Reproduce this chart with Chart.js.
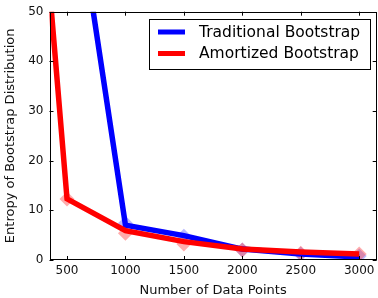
<!DOCTYPE html>
<html>
<head>
<meta charset="utf-8">
<script src="https://cdn.jsdelivr.net/npm/chart.js@4"></script>
<style>
  html, body { margin: 0; padding: 0; background: #fff; }
  #wrap { width: 378px; height: 298px; }
</style>
</head>
<body>
<div id="wrap"><canvas id="entropyCanvas" width="378" height="298"></canvas></div>
<script>
// values
const xTicks = [500, 1000, 1500, 2000, 2500, 3000];
const yTicks = [0, 10, 20, 30, 40, 50];

const tradX = [500, 1000, 1500, 2000, 2500, 3000];
const tradY = [85, 7.0, 4.9, 2.2, 1.2, 0.6];
const amorX = [250, 500, 1000, 1500, 2000, 2500, 3000];
const amorY = [83, 12.3, 5.9, 3.7, 2.2, 1.6, 1.2];

// bootstrap sample markers
const tradMarkX = [1000, 1500, 2000, 2500, 3000];
const tradMarkY = [7.4, 4.8, 2.0, 1.2, 0.8];
const amorMarkX = [500, 1000, 1500, 2000, 2500, 3000];
const amorMarkY = [12.3, 5.4, 3.2, 2.0, 1.35, 1.2];

const FONT = "'DejaVu Sans', sans-serif";
const toPts = (xs, ys) => xs.map((x, i) => ({ x: x, y: ys[i] }));

// frame, inward ticks on all sides and the legend box
const framePlugin = {
    id: 'frame',
    afterDatasetsDraw(chart) {
        const { ctx, chartArea: a, scales } = chart;
        ctx.save();
        ctx.strokeStyle = '#000';
        ctx.lineWidth = 1;
        ctx.beginPath();
        xTicks.forEach(v => {
            const px = Math.round(scales.x.getPixelForValue(v)) + 0.5;
            ctx.moveTo(px, a.bottom); ctx.lineTo(px, a.bottom - 4);
            ctx.moveTo(px, a.top); ctx.lineTo(px, a.top + 4);
        });
        yTicks.forEach(v => {
            const py = Math.round(scales.y.getPixelForValue(v)) + 0.5;
            ctx.moveTo(a.left, py); ctx.lineTo(a.left + 4, py);
            ctx.moveTo(a.right, py); ctx.lineTo(a.right - 4, py);
        });
        ctx.stroke();
        ctx.strokeRect(Math.round(a.left) + 0.5, Math.round(a.top) + 0.5,
            Math.round(a.right - a.left) - 1, Math.round(a.bottom - a.top) - 1);

        // legend
        const lx = 149.5, ly = 19.5, lw = 221, lh = 50;
        ctx.fillStyle = '#fff';
        ctx.fillRect(lx, ly, lw, lh);
        ctx.strokeStyle = '#000';
        ctx.strokeRect(lx, ly, lw, lh);
        const items = [chart.data.datasets[0], chart.data.datasets[1]];
        ctx.font = '15.5px ' + FONT;
        ctx.textBaseline = 'middle';
        items.forEach((ds, i) => {
            const y = 32 + i * 21.5;
            ctx.strokeStyle = ds.borderColor;
            ctx.lineWidth = 5;
            ctx.beginPath();
            ctx.moveTo(158, y); ctx.lineTo(185, y);
            ctx.stroke();
            ctx.fillStyle = '#000';
            ctx.fillText(ds.label, 199, y + 0.5);
        });
        ctx.restore();
    }
};

const ctx = document.getElementById('entropyCanvas').getContext('2d');

let myChart = new Chart(ctx, {
    type: 'scatter',
    data: {
        datasets: [{
            label: 'Traditional Bootstrap',
            data: toPts(tradX, tradY),
            showLine: true,
            borderColor: '#0000ff',
            borderWidth: 5.5,
            pointRadius: 0,
            clip: 0,
            order: 2
        }, {
            label: 'Amortized Bootstrap',
            data: toPts(amorX, amorY),
            showLine: true,
            borderColor: '#ff0000',
            borderWidth: 5.5,
            pointRadius: 0,
            clip: 0,
            order: 1
        }, {
            label: 'trad samples',
            data: toPts(tradMarkX, tradMarkY),
            pointStyle: 'rectRot',
            pointRadius: 7.5,
            pointBorderWidth: 0,
            pointBackgroundColor: 'rgba(100,100,255,0.45)',
            clip: 0,
            order: 4
        }, {
            label: 'amor samples',
            data: toPts(amorMarkX, amorMarkY),
            pointStyle: 'rectRot',
            pointRadius: 7.5,
            pointBorderWidth: 0,
            pointBackgroundColor: 'rgba(255,70,70,0.45)',
            clip: 0,
            order: 3
        }]
    },
    options: {
        responsive: false,
        animation: false,
        events: [],
        layout: { autoPadding: false, padding: { top: 11.7, right: 1.3, left: 0, bottom: 0 } },
        scales: {
            x: {
                type: 'linear',
                min: 350,
                max: 3150,
                afterBuildTicks: scale => { scale.ticks = xTicks.map(v => ({ value: v })); },
                afterFit: scale => {
                    scale.height = 38;
                    scale.paddingLeft = 0;
                    scale.paddingRight = 0;
                },
                grid: { display: false, drawTicks: false },
                border: { display: false },
                ticks: {
                    color: '#111',
                    font: { family: FONT, size: 12 },
                    padding: 4,
                    maxRotation: 0,
                    autoSkip: false,
                    callback: v => String(v)
                },
                title: {
                    display: true,
                    text: 'Number of Data Points',
                    color: '#111',
                    font: { family: FONT, size: 13 },
                    padding: { top: 1, bottom: 0 }
                }
            },
            y: {
                min: 0,
                max: 50,
                afterBuildTicks: scale => { scale.ticks = yTicks.map(v => ({ value: v })); },
                afterFit: scale => {
                    scale.width = 49.5;
                    scale.paddingTop = 0;
                    scale.paddingBottom = 0;
                },
                grid: { display: false, drawTicks: false },
                border: { display: false },
                ticks: {
                    color: '#111',
                    font: { family: FONT, size: 12 },
                    padding: 6,
                    callback: v => String(v)
                },
                title: {
                    display: true,
                    text: 'Entropy of Bootstrap Distribution',
                    color: '#111',
                    font: { family: FONT, size: 13 },
                    padding: { top: 3, bottom: 0 }
                }
            }
        },
        plugins: {
            legend: { display: false },
            tooltip: { enabled: false }
        }
    },
    plugins: [framePlugin]
});
</script>
</body>
</html>
